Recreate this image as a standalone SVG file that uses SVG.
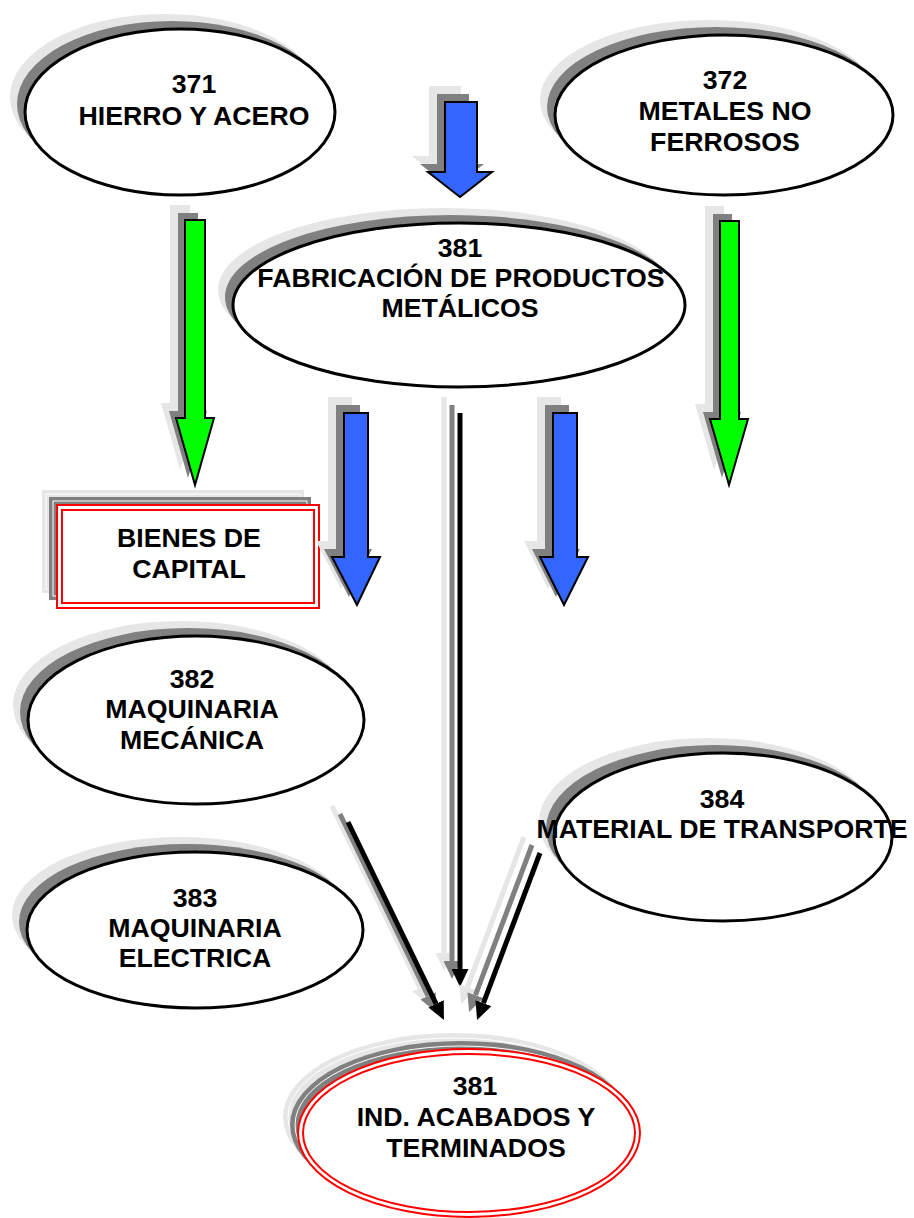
<svg xmlns="http://www.w3.org/2000/svg" width="914" height="1218" viewBox="0 0 914 1218">
<defs>
<style>
.sl{fill:#e6e6e6;stroke:none}
.sd{fill:#808080;stroke:none}
.node{fill:#fff;stroke:#000;stroke-width:3}
.red{fill:#fff;stroke:#ff0000;stroke-width:2}
.redi{fill:none;stroke:#ff0000;stroke-width:2}
.wl{fill:none;stroke:#fff;stroke-width:1}
.blue{fill:#3366ff;stroke:#000;stroke-width:2;stroke-linejoin:miter}
.green{fill:#00ff00;stroke:#000;stroke-width:2;stroke-linejoin:miter}
.ln0{stroke:#000;stroke-width:5;fill:none}
.ln1{stroke:#808080;stroke-width:5;fill:none}
.ln2{stroke:#e6e6e6;stroke-width:5;fill:none}
text{font-family:"Liberation Sans",Arial,sans-serif;font-weight:bold;font-size:26.7px;fill:#000;text-anchor:middle}
</style>
<marker id="h0" viewBox="0 0 18 17" refX="0" refY="8.5" markerWidth="18" markerHeight="17" markerUnits="userSpaceOnUse" orient="auto"><path d="M0,0 L18,8.5 L0,17 Z" fill="#000"/></marker>
<marker id="h1" viewBox="0 0 18 17" refX="0" refY="8.5" markerWidth="18" markerHeight="17" markerUnits="userSpaceOnUse" orient="auto"><path d="M0,0 L18,8.5 L0,17 Z" fill="#808080"/></marker>
<marker id="h2" viewBox="0 0 18 17" refX="0" refY="8.5" markerWidth="18" markerHeight="17" markerUnits="userSpaceOnUse" orient="auto"><path d="M0,0 L18,8.5 L0,17 Z" fill="#e6e6e6"/></marker>
</defs>
<rect width="914" height="1218" fill="#fff"/>

<g id="n371">
<ellipse class="sl" cx="165" cy="97" rx="155" ry="83"/>
<ellipse class="sd" cx="172" cy="104" rx="155" ry="83"/>
<ellipse class="node" cx="180" cy="112" rx="155" ry="83"/>
<text x="194" y="93">371</text>
<text x="194" y="125">HIERRO Y ACERO</text>
</g>

<g id="n372">
<ellipse class="sl" cx="709" cy="100" rx="169" ry="80"/>
<ellipse class="sd" cx="716" cy="107" rx="169" ry="80"/>
<ellipse class="node" cx="724" cy="115" rx="169" ry="80"/>
<text x="725" y="89">372</text>
<text x="725" y="120">METALES NO</text>
<text x="725" y="151">FERROSOS</text>
</g>

<g id="n381a">
<ellipse class="sl" cx="444" cy="290" rx="226" ry="82"/>
<ellipse class="sd" cx="451" cy="297" rx="226" ry="82"/>
<ellipse class="node" cx="459" cy="305" rx="226" ry="82"/>
<text x="460" y="257">381</text>
<text x="461" y="287">FABRICACIÓN DE PRODUCTOS</text>
<text x="460" y="317">METÁLICOS</text>
</g>

<g id="n382">
<ellipse class="sl" cx="181" cy="705" rx="168" ry="84"/>
<ellipse class="sd" cx="188" cy="712" rx="168" ry="84"/>
<ellipse class="node" cx="196" cy="720" rx="168" ry="84"/>
<text x="192" y="688">382</text>
<text x="192" y="718">MAQUINARIA</text>
<text x="192" y="749">MECÁNICA</text>
</g>

<g id="n383">
<ellipse class="sl" cx="180" cy="915" rx="168" ry="78"/>
<ellipse class="sd" cx="187" cy="922" rx="168" ry="78"/>
<ellipse class="node" cx="195" cy="930" rx="168" ry="78"/>
<text x="195" y="907">383</text>
<text x="195" y="937">MAQUINARIA</text>
<text x="195" y="967">ELECTRICA</text>
</g>

<g id="n384">
<ellipse class="sl" cx="708" cy="822" rx="169" ry="84"/>
<ellipse class="sd" cx="715" cy="829" rx="169" ry="84"/>
<ellipse class="node" cx="723" cy="837" rx="169" ry="84"/>
<text x="722" y="808">384</text>
<text x="722" y="838">MATERIAL DE TRANSPORTE</text>
</g>

<g id="bienes">
<rect class="sl" x="42" y="490" width="262" height="103"/>
<rect class="wl" x="46" y="494" width="254" height="95"/>
<rect class="sd" x="49" y="497" width="262" height="103"/>
<rect class="wl" x="53" y="501" width="254" height="95"/>
<rect class="red" x="57" y="505" width="262" height="103"/>
<rect class="redi" x="62" y="510" width="252" height="93"/>
<text x="189" y="547">BIENES DE</text>
<text x="189" y="578">CAPITAL</text>
</g>

<g id="n381b">
<ellipse class="sl" cx="454" cy="1117" rx="171" ry="84"/>
<ellipse class="wl" cx="454" cy="1117" rx="166" ry="79"/>
<ellipse class="sd" cx="461" cy="1125" rx="171" ry="84"/>
<ellipse class="wl" cx="461" cy="1125" rx="166" ry="79"/>
<ellipse class="red" cx="469" cy="1133" rx="171" ry="84"/>
<ellipse class="redi" cx="469" cy="1133" rx="166" ry="79"/>
<text x="475" y="1095">381</text>
<text x="476" y="1126">IND. ACABADOS Y</text>
<text x="476" y="1157">TERMINADOS</text>
</g>

<g id="connectors">
<g id="a-top">
<path class="sl" transform="translate(-16,-16)" d="M445,102 H477 V172 H492 L460,197 L428,172 H445 Z"/>
<path class="sd" transform="translate(-8,-8)" d="M445,102 H477 V172 H492 L460,197 L428,172 H445 Z"/>
<path class="blue" d="M445,102 H477 V172 H492 L460,197 L428,172 H445 Z"/>
</g>
<g id="a-green-l">
<path class="sl" transform="translate(-15,-15)" d="M185,220 H205 V418 H214 L195,485 L176,418 H185 Z"/>
<path class="sd" transform="translate(-7,-7)" d="M185,220 H205 V418 H214 L195,485 L176,418 H185 Z"/>
<path class="green" d="M185,220 H205 V418 H214 L195,485 L176,418 H185 Z"/>
</g>
<g id="a-green-r">
<path class="sl" transform="translate(-15,-15)" d="M720,221 H739 V419 H748 L729,485 L710,419 H720 Z"/>
<path class="sd" transform="translate(-7,-7)" d="M720,221 H739 V419 H748 L729,485 L710,419 H720 Z"/>
<path class="green" d="M720,221 H739 V419 H748 L729,485 L710,419 H720 Z"/>
</g>
<g id="a-blue-l">
<path class="sl" transform="translate(-16,-16)" d="M344,413 H368 V557 H380 L357,605 L332,557 H344 Z"/>
<path class="sd" transform="translate(-8,-8)" d="M344,413 H368 V557 H380 L357,605 L332,557 H344 Z"/>
<path class="blue" d="M344,413 H368 V557 H380 L357,605 L332,557 H344 Z"/>
</g>
<g id="a-blue-r">
<path class="sl" transform="translate(-16,-16)" d="M553,413 H577 V557 H588 L564,605 L540,557 H553 Z"/>
<path class="sd" transform="translate(-8,-8)" d="M553,413 H577 V557 H588 L564,605 L540,557 H553 Z"/>
<path class="blue" d="M553,413 H577 V557 H588 L564,605 L540,557 H553 Z"/>
</g>
<g id="c-vert">
<line class="ln2" x1="444" y1="397" x2="444" y2="953" marker-end="url(#h2)"/>
<line class="ln1" x1="452" y1="405" x2="452" y2="961" marker-end="url(#h1)"/>
<line class="ln0" x1="460" y1="413" x2="460" y2="969" marker-end="url(#h0)"/>
</g>
<g id="c-left">
<line class="ln2" x1="332" y1="806" x2="420.1" y2="987.8" marker-end="url(#h2)"/>
<line class="ln1" x1="340" y1="814" x2="428.1" y2="995.8" marker-end="url(#h1)"/>
<line class="ln0" x1="348" y1="822" x2="436.1" y2="1003.8" marker-end="url(#h0)"/>
</g>
<g id="c-right">
<line class="ln2" x1="524" y1="837" x2="467.4" y2="987.2" marker-end="url(#h2)"/>
<line class="ln1" x1="532" y1="845" x2="475.4" y2="995.2" marker-end="url(#h1)"/>
<line class="ln0" x1="540" y1="853" x2="483.4" y2="1003.2" marker-end="url(#h0)"/>
</g>
</g>
</svg>
